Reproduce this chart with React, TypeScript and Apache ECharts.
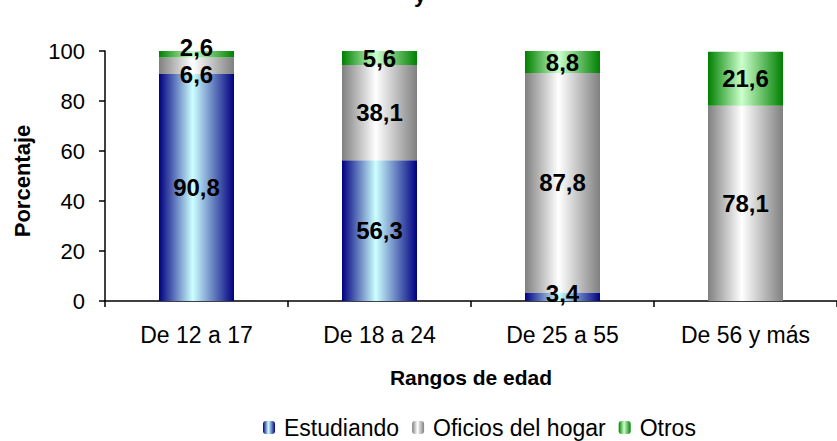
import React, { useEffect, useRef } from "react";
import * as echarts from "echarts";

const categories = ["De 12 a 17", "De 18 a 24", "De 25 a 55", "De 56 y más"];
const estudiando = [90.8, 56.3, 3.4, 0];
const oficios = [6.6, 38.1, 87.8, 78.1];
const otros = [2.6, 5.6, 8.8, 21.6];
const yTicks = [0, 20, 40, 60, 80, 100];

const FONT = "'Liberation Sans', Arial, sans-serif";

function grad(edge: string, center: string) {
  return new echarts.graphic.LinearGradient(0, 0, 1, 0, [
    { offset: 0, color: edge },
    { offset: 0.45, color: center },
    { offset: 1, color: edge },
  ]);
}

const fmt = (p: any) => (p.value ? Number(p.value).toFixed(1).replace(".", ",") : "");

export default function App() {
  const ref = useRef<HTMLDivElement>(null);
  useEffect(() => {
    if (!ref.current) return;
    const chart = echarts.init(ref.current, null, { renderer: "svg" });
    const label = {
      show: true,
      position: "inside" as const,
      formatter: fmt,
      color: "#000",
      fontFamily: FONT,
      fontWeight: "bold" as const,
      fontSize: 24,
      lineHeight: 19,
    };
    // nudges for the crowded first bar (labels of thin segments)
    const withOffsets = (vals: number[], offsets: Record<number, number>) =>
      vals.map((v, i) =>
        offsets[i] !== undefined ? { value: v, label: { offset: [0, offsets[i]] } } : v
      );
    chart.setOption({
      animation: false,
      backgroundColor: "#fff",
      textStyle: { fontFamily: FONT },
      graphic: [
        {
          type: "text",
          left: 414,
          top: -17,
          style: { text: "y", font: `bold 22px ${FONT}`, fill: "#000" },
        },
      ],
      grid: { left: 105, top: 51, width: 742, height: 250, containLabel: false },
      legend: {
        top: 411,
        left: 258,
        itemWidth: 12,
        itemHeight: 13,
        itemGap: 13,
        textStyle: { fontSize: 23, color: "#000", fontFamily: FONT, padding: [0, 0, 0, 4] },
        data: ["Estudiando", "Oficios del hogar", "Otros"],
      },
      xAxis: {
        type: "category",
        data: categories,
        name: "Rangos de edad",
        nameLocation: "middle",
        nameGap: 66,
        nameTextStyle: { fontSize: 21, fontWeight: "bold", color: "#000", fontFamily: FONT },
        axisLine: { lineStyle: { color: "#000", width: 1.5 } },
        axisTick: { show: true, length: 6, lineStyle: { color: "#000", width: 1.5 } },
        axisLabel: { fontSize: 23, color: "#000", margin: 22, fontFamily: FONT },
      },
      yAxis: {
        type: "value",
        min: 0,
        max: 100,
        interval: 20,
        name: "Porcentaje",
        nameLocation: "middle",
        nameGap: 72,
        nameRotate: 90,
        nameTextStyle: {
          fontSize: 22,
          fontWeight: "bold",
          color: "#000",
          fontFamily: FONT,
          padding: [0, 10, 0, 0],
        },
        axisLine: { show: true, lineStyle: { color: "#000", width: 1.5 } },
        axisTick: { show: true, length: 6, lineStyle: { color: "#000", width: 1.5 } },
        splitLine: { show: false },
        axisLabel: {
          fontSize: 22,
          color: "#000",
          margin: 20,
          fontFamily: FONT,
          formatter: (v: number) => (yTicks.includes(v) ? String(v) : ""),
        },
      },
      series: [
        {
          name: "Estudiando",
          type: "bar",
          stack: "total",
          barWidth: 75,
          data: withOffsets(estudiando, { 2: -3 }),
          itemStyle: { color: grad("#000080", "#ccffff") },
          label,
        },
        {
          name: "Oficios del hogar",
          type: "bar",
          stack: "total",
          barWidth: 75,
          data: withOffsets(oficios, { 0: 9 }),
          itemStyle: { color: grad("#808080", "#ffffff") },
          label,
        },
        {
          name: "Otros",
          type: "bar",
          stack: "total",
          barWidth: 75,
          data: withOffsets(otros, { 0: -7 }),
          itemStyle: { color: grad("#008000", "#ccffcc") },
          label,
        },
      ],
    });
    return () => chart.dispose();
  }, []);
  return (
    <div
      ref={ref}
      style={{ position: "fixed", left: 0, top: 0, width: 837, height: 441 }}
    />
  );
}
